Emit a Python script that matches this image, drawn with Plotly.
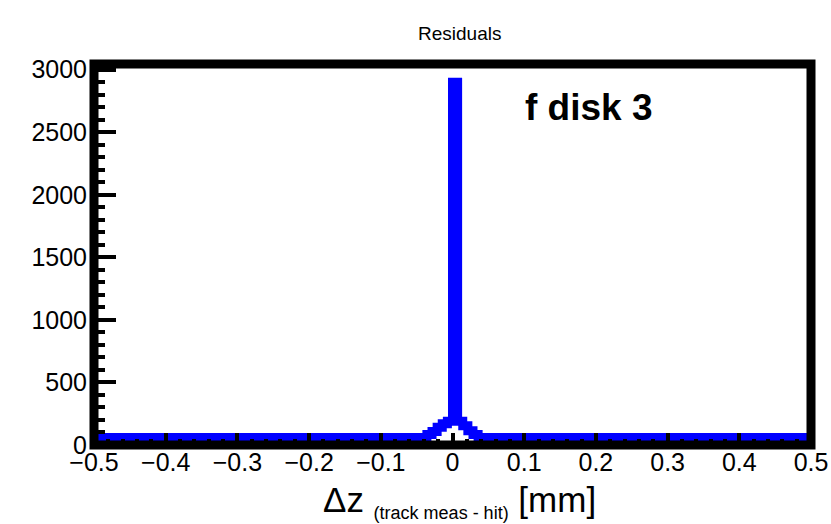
import plotly.graph_objects as go

# Histogram: 140 bins from -0.5 to 0.5 (mm)
x_min = -0.5
x_max = 0.5
n_bins = 140
counts = [
    60, 60, 60, 60, 60, 60, 60, 60, 60, 60,
    60, 60, 60, 60, 60, 60, 60, 60, 60, 60,
    60, 60, 60, 60, 60, 60, 60, 60, 60, 60,
    60, 60, 60, 60, 60, 60, 60, 60, 60, 60,
    60, 60, 60, 60, 60, 60, 60, 60, 60, 60,
    60, 60, 60, 60, 60, 60, 60, 60, 60, 60,
    60, 60, 60, 60, 60, 84, 108, 142, 170, 190,
    2900, 190, 153, 113, 84, 60, 60, 60, 60, 60,
    60, 60, 60, 60, 60, 60, 60, 60, 60, 60,
    60, 60, 60, 60, 60, 60, 60, 60, 60, 60,
    60, 60, 60, 60, 60, 60, 60, 60, 60, 60,
    60, 60, 60, 60, 60, 60, 60, 60, 60, 60,
    60, 60, 60, 60, 60, 60, 60, 60, 60, 60,
    60, 60, 60, 60, 60, 60, 60, 60, 60, 60,
]
x_ticks = [-0.5, -0.4, -0.3, -0.2, -0.1, 0, 0.1, 0.2, 0.3, 0.4, 0.5]
x_tick_labels = ["\u22120.5", "\u22120.4", "\u22120.3", "\u22120.2", "\u22120.1",
                 "0", "0.1", "0.2", "0.3", "0.4", "0.5"]
y_ticks = [0, 500, 1000, 1500, 2000, 2500, 3000]
y_max = 3045

title_text = "Residuals"
x_title = ("\u0394z <sub><span style=\"font-size:18px\">(track meas - hit)</span></sub> [mm]")
label_text = "<b>f disk 3</b>"

bw = (x_max - x_min) / n_bins
edges = [x_min + i * bw for i in range(n_bins + 1)]
ys = counts + [counts[-1]]

FONT = "Liberation Sans, Arial, Helvetica, sans-serif"

fig = go.Figure()
fig.add_trace(go.Scatter(
    x=edges, y=ys, mode="lines", line_shape="hv",
    line=dict(color="#0000ff", width=9),
    hoverinfo="skip", showlegend=False,
))

fig.update_layout(
    width=831, height=524,
    margin=dict(l=94, r=20, t=64, b=79, pad=0),
    paper_bgcolor="white", plot_bgcolor="white",
    font=dict(family=FONT, color="black"),
    showlegend=False,
    xaxis=dict(
        range=[x_min, x_max], showgrid=False, zeroline=False, automargin=False,
        tickmode="array", tickvals=x_ticks, ticktext=x_tick_labels,
        ticks="inside", ticklen=12, tickwidth=4, tickcolor="black",
        tickfont=dict(size=25, family=FONT, color="black"),
        ticklabelstandoff=0,
        minor=dict(dtick=0.02, tick0=0, ticks="inside", ticklen=6,
                   tickwidth=4, tickcolor="black", showgrid=False),
        showline=False, layer="above traces",
    ),
    yaxis=dict(
        range=[0, y_max], showgrid=False, zeroline=False, automargin=False,
        tickmode="array", tickvals=y_ticks,
        ticks="inside", ticklen=22, tickwidth=4, tickcolor="black",
        tickfont=dict(size=25, family=FONT, color="black"),
        ticklabelstandoff=6,
        minor=dict(dtick=100, tick0=0, ticks="inside", ticklen=11,
                   tickwidth=4, tickcolor="black", showgrid=False),
        showline=False, layer="above traces",
    ),
    shapes=[dict(type="rect", xref="paper", yref="paper", x0=0, x1=1, y0=0, y1=1,
                 line=dict(color="black", width=9), fillcolor="rgba(0,0,0,0)",
                 layer="above")],
    annotations=[
        dict(text=title_text, xref="paper", yref="paper", x=0.51, y=1.0,
             yshift=31, xanchor="center", yanchor="middle", showarrow=False,
             font=dict(size=19, family=FONT, color="black")),
        dict(text=label_text, xref="paper", yref="paper", x=0.598, y=0.886,
             xanchor="left", yanchor="middle", showarrow=False,
             font=dict(size=37, family=FONT, color="black")),
        dict(text=x_title, xref="paper", yref="paper", x=0.51, y=0.0,
             yshift=-56, xanchor="center", yanchor="middle", showarrow=False,
             font=dict(size=35, family=FONT, color="black")),
    ],
)

fig.write_html("out.html")
